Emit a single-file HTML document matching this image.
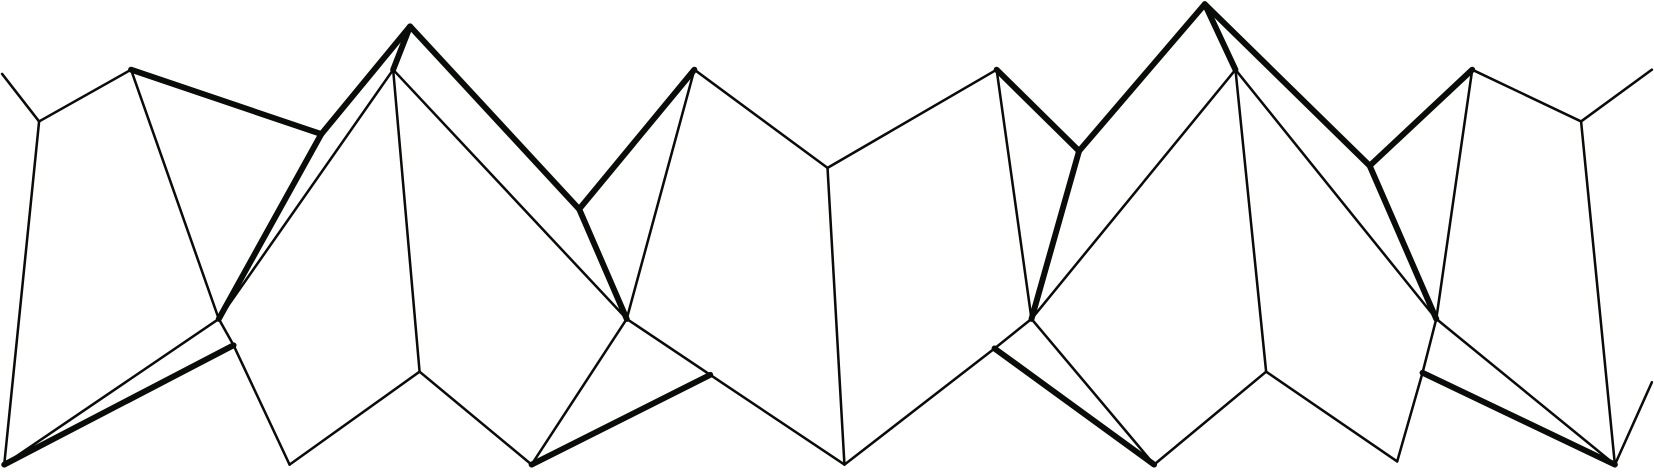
<!DOCTYPE html>
<html><head><meta charset="utf-8"><style>
html,body{margin:0;padding:0;background:#fff;width:1654px;height:472px;overflow:hidden}
svg{display:block}
</style></head><body>
<svg id="chart" width="1654" height="472" viewBox="0 0 1565 447" preserveAspectRatio="none" xmlns="http://www.w3.org/2000/svg"></svg>
<script>
const vertexNames = ["A","B","C","D","E","F","G","H","I","J","K","L","M","N","O","P","Q","a","b","c","d","e","f","g","h","i","j","k","l","m","n","o","p","q","r"];
const vertexX = [2,37,124,304,388,372,548,657,783,943,1021,1140,1169,1296,1393,1496,1563,4,207,221,274,397,503,593,672,799,941,976,1092,1198,1322,1346,1359,1528,1563];
const vertexY = [70,115,66,127,25,66,198,66,159,66,143,4,66,157,66,115,66,440,302,327,440,352,440,302,355,440,330,302,440,352,437,353,302,440,362];
const thinEdges = ["A-B","B-C","B-a","C-b","a-b","b-F","b-c","c-d","d-e","e-F","e-f","F-g","f-g","g-H","g-h","h-i","i-I","H-I","I-J","J-k","i-j","j-k","k-M","k-l","l-m","m-M","m-n","n-o","o-p","M-p","p-O","p-q","O-P","P-q","P-Q","q-r"];
const thickEdges = ["C-D","D-E","D-b","E-F","E-G","G-H","G-g","a-c","f-h","J-K","K-L","K-k","L-M","L-N","N-O","N-p","j-l","o-q"];

const svg = document.getElementById('chart');
const NS = "http://www.w3.org/2000/svg";
function pt(n){const i=vertexNames.indexOf(n);return [vertexX[i],vertexY[i]];}
function draw(list, w, kind){
  list.forEach(e=>{
    const [p,q]=e.split('-');
    const [x1,y1]=pt(p),[x2,y2]=pt(q);
    const l=document.createElementNS(NS,'line');
    l.setAttribute('x1',x1);l.setAttribute('y1',y1);
    l.setAttribute('x2',x2);l.setAttribute('y2',y2);
    l.setAttribute('stroke','#0a0c0a');
    l.setAttribute('stroke-width',w);
    l.setAttribute('stroke-linecap','round');
    l.setAttribute('stroke-linejoin','round');
    
    
    svg.appendChild(l);
  });
}
draw(thinEdges,2.4,'thin');
draw(thickEdges,5.6,'thick');
</script>
</body></html>
